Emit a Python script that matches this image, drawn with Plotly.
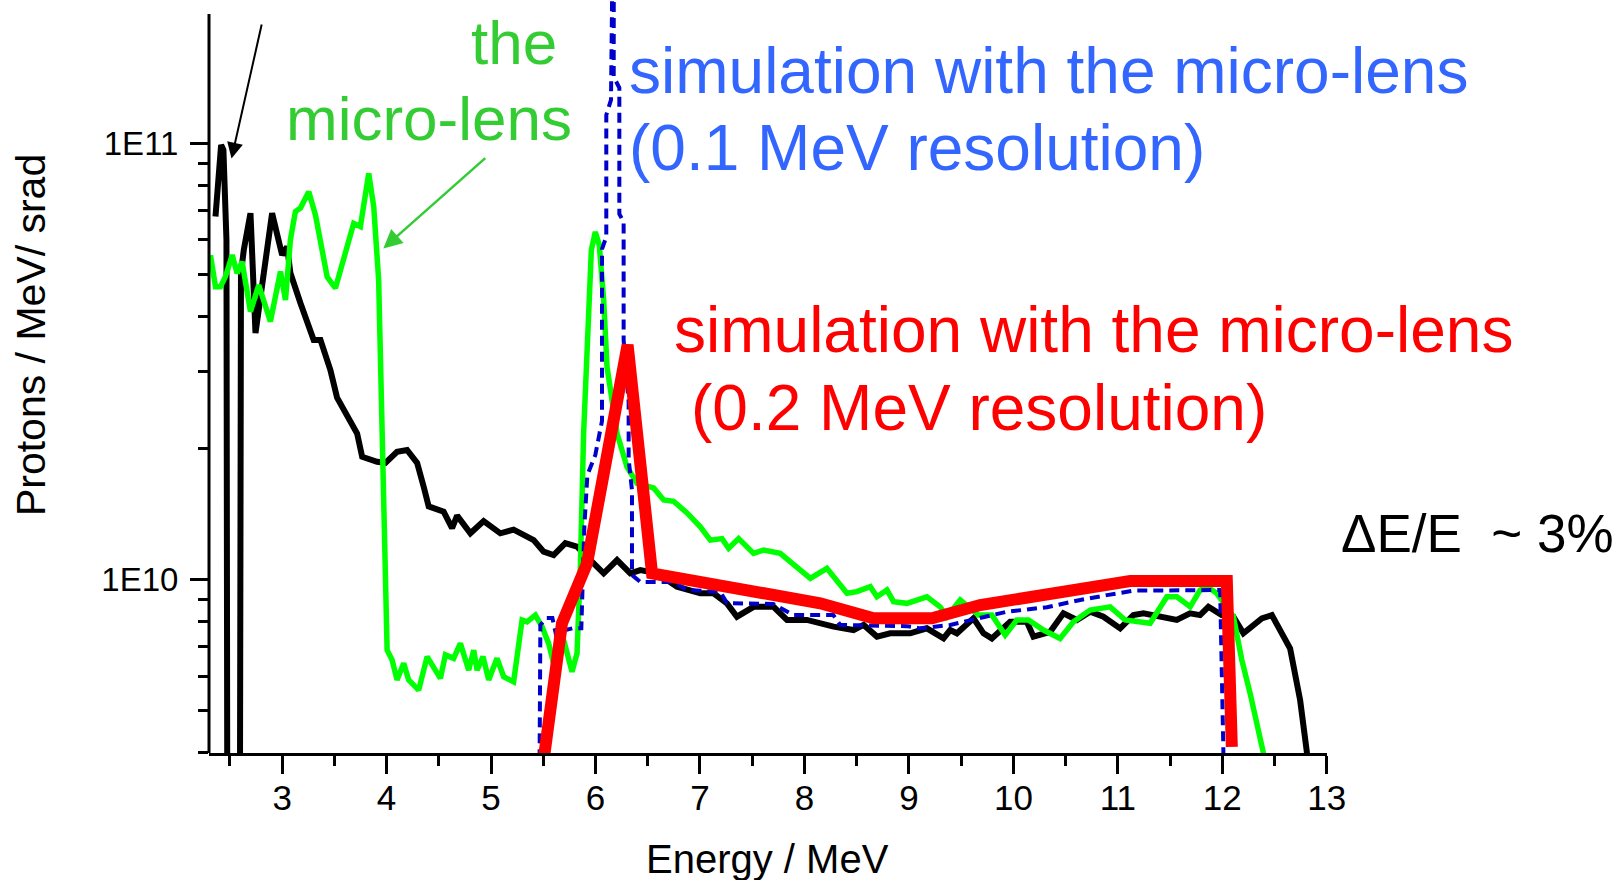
import numpy as np
import plotly.graph_objects as go

# ---------------- data (energy in MeV, spectrum in units of 1E10 protons / MeV / srad) -------------
black_E = [2.362, 2.416, 2.438, 2.467, 2.475, 2.596, 2.606, 2.633, 2.697, 2.745, 2.904, 3.000, 3.048,
           3.079, 3.175, 3.302, 3.367, 3.462, 3.526, 3.622, 3.718, 3.766, 3.909, 3.989, 4.100, 4.196,
           4.292, 4.355, 4.403, 4.546, 4.627, 4.675, 4.802, 4.929, 5.089, 5.216, 5.408, 5.503, 5.599,
           5.711, 5.823, 5.982, 6.078, 6.206, 6.333, 6.429, 6.589, 6.780, 7.003, 7.130, 7.258, 7.354,
           7.513, 7.704, 7.833, 8.024, 8.279, 8.470, 8.566, 8.694, 8.821, 9.012, 9.172, 9.331, 9.395,
           9.459, 9.618, 9.714, 9.794, 9.969, 10.129, 10.192, 10.352, 10.479, 10.608, 10.735, 10.862,
           11.022, 11.149, 11.245, 11.436, 11.564, 11.691, 11.787, 11.867, 11.995, 12.106, 12.202,
           12.378, 12.474, 12.649, 12.745, 12.809, 12.830]
black_N = [6.79, 9.91, 9.65, 6.00, 0.30, 0.30, 5.04, 5.69, 6.91, 3.67, 6.91, 5.54, 5.79,
           5.04, 4.30, 3.54, 3.54, 3.02, 2.61, 2.36, 2.16, 1.91, 1.86, 1.85, 1.96, 1.98,
           1.85, 1.63, 1.47, 1.43, 1.31, 1.40, 1.275, 1.36, 1.275, 1.30, 1.23, 1.157, 1.137,
           1.21, 1.188, 1.088, 1.032, 1.107, 1.032, 1.05, 1.032, 0.962, 0.929, 0.929, 0.881, 0.821,
           0.865, 0.865, 0.807, 0.807, 0.779, 0.765, 0.786, 0.739, 0.752, 0.752, 0.772, 0.732, 0.765,
           0.752, 0.814, 0.752, 0.732, 0.799, 0.799, 0.739, 0.758, 0.836, 0.807, 0.843, 0.821,
           0.772, 0.828, 0.836, 0.821, 0.807, 0.836, 0.828, 0.865, 0.828, 0.821, 0.752,
           0.814, 0.828, 0.694, 0.528, 0.402, 0.30]

green_E = [2.314, 2.362, 2.410, 2.457, 2.522, 2.569, 2.617, 2.697, 2.776, 2.888, 2.984, 3.032, 3.079,
           3.127, 3.175, 3.255, 3.319, 3.431, 3.510, 3.637, 3.685, 3.749, 3.829, 3.877, 3.924, 3.957,
           3.979, 4.005, 4.053, 4.100, 4.164, 4.211, 4.307, 4.388, 4.515, 4.563, 4.642, 4.706, 4.786,
           4.834, 4.866, 4.923, 4.977, 5.057, 5.121, 5.216, 5.297, 5.344, 5.424, 5.488, 5.551, 5.615,
           5.695, 5.775, 5.823, 5.855, 5.886, 5.922, 5.960, 5.998, 6.036, 6.078, 6.110, 6.206, 6.301,
           6.397, 6.556, 6.652, 6.747, 6.876, 7.003, 7.099, 7.211, 7.274, 7.370, 7.513, 7.609, 7.768,
           7.928, 8.056, 8.215, 8.407, 8.502, 8.630, 8.694, 8.790, 8.853, 8.981, 9.172, 9.299, 9.364,
           9.491, 9.666, 9.794, 9.921, 10.033, 10.144, 10.288, 10.447, 10.575, 10.735, 10.926, 11.070,
           11.309, 11.469, 11.565, 11.692, 11.787, 11.852, 11.947, 12.106, 12.187, 12.266, 12.394, 12.41]
green_N = [5.54, 4.69, 4.69, 4.94, 5.54, 5.03, 5.35, 4.11, 4.73, 3.90, 5.08, 4.37, 6.00,
           6.97, 7.10, 7.74, 6.85, 4.94, 4.65, 5.90, 6.55, 6.44, 8.53, 7.15, 4.86, 2.20,
           1.17, 0.688, 0.653, 0.588, 0.642, 0.588, 0.557, 0.665, 0.593, 0.671, 0.659, 0.713, 0.619,
           0.688, 0.619, 0.665, 0.588, 0.659, 0.598, 0.582, 0.807, 0.799, 0.828, 0.779, 0.713, 0.619,
           0.726, 0.614, 0.677, 1.069, 2.16, 3.73, 5.69, 6.26, 5.84, 4.37, 3.07, 2.16, 1.81,
           1.66, 1.62, 1.52, 1.51, 1.42, 1.32, 1.23, 1.24, 1.178, 1.24, 1.147, 1.167, 1.147,
           1.069, 1.005, 1.06, 0.929, 0.937, 0.962, 0.912, 0.945, 0.889, 0.881, 0.912, 0.865, 0.821,
           0.897, 0.828, 0.828, 0.745, 0.807, 0.807, 0.765, 0.732, 0.799, 0.85, 0.865, 0.807,
           0.793, 0.912, 0.912, 0.865, 0.945, 0.962, 0.929, 0.821, 0.653, 0.548, 0.399, 0.35]

sim01_E = [5.462, 5.472, 5.529, 5.587, 5.625, 5.711, 5.778, 5.864, 5.893, 5.922, 5.998, 6.062, 6.062,
           6.103, 6.103, 6.148, 6.165, 6.175, 6.174, 6.228, 6.228, 6.269, 6.269, 6.317, 6.317, 6.349,
           6.349, 6.429, 6.745, 6.876, 7.194, 7.258, 7.701, 7.893, 8.276, 8.343, 8.981, 9.108, 9.395,
           9.587, 9.746, 9.938, 10.321, 10.639, 10.895, 11.149, 11.979, 11.995, 12.010, 12.012]
sim01_N = [0.30, 0.786, 0.815, 0.815, 0.741, 0.765, 0.772, 0.772, 1.318, 1.735, 1.928, 2.307, 5.72,
           6.10, 11.61, 12.57, 30.0, 30.0, 14.2, 13.4, 6.88, 6.60, 3.54, 2.55, 1.887, 1.60,
           1.023, 0.986, 0.986, 0.945, 0.936, 0.882, 0.878, 0.828, 0.828, 0.786, 0.781, 0.772, 0.786,
           0.807, 0.821, 0.843, 0.863, 0.897, 0.92, 0.942, 0.945, 0.677, 0.406, 0.30]

sim02_E = [5.503, 5.679, 5.919, 6.307, 6.541, 7.194, 8.151, 8.661, 9.220, 9.682, 10.831, 11.118,
           12.043, 12.091]
sim02_N = [0.385, 0.793, 1.088, 3.45, 1.032, 0.962, 0.881, 0.814, 0.814, 0.873, 0.954, 0.991,
           0.991, 0.413]

x_tick_vals = list(range(3, 14))
x_tick_text = [str(v) for v in x_tick_vals]
x_minor_vals = [v + 0.5 for v in range(2, 13)]
y_tick_vals = [1e10, 1e11]
y_tick_text = ["1E10", "1E11"]
y_minor_vals = [m * 1e9 for m in range(4, 10)] + [m * 1e10 for m in range(2, 10)]

UNIT = 1e10

# ---------------- layout geometry (pixels of the 1614 x 880 page) ----------------
W, H = 1614, 880
L, R, T, B = 209.0, 1326.7, 0.0, 752.7
AX_TOP = 14.0


def px(xp):
    return (xp - L) / (R - L)


def py(yp):
    return (B - yp) / (B - T)


FONT = "Liberation Sans, Arial, Helvetica, sans-serif"
GREEN_TXT = "#33cc33"
BLUE_TXT = "#3366ff"
RED = "#ff0000"

fig = go.Figure()
fig.add_trace(go.Scatter(x=black_E, y=np.array(black_N) * UNIT, mode="lines",
                         line=dict(color="black", width=6), name="without lens"))
fig.add_trace(go.Scatter(x=green_E, y=np.array(green_N) * UNIT, mode="lines",
                         line=dict(color="#00ff00", width=5.5), name="with the micro-lens"))
fig.add_trace(go.Scatter(x=sim01_E, y=np.array(sim01_N) * UNIT, mode="lines",
                         line=dict(color="#0000cc", width=4, dash="10px,6px"),
                         name="simulation 0.1 MeV"))
fig.add_trace(go.Scatter(x=sim02_E, y=np.array(sim02_N) * UNIT, mode="lines",
                         line=dict(color=RED, width=12), name="simulation 0.2 MeV"))

annotations = []


def text(t, xp, yp, size, color, xanchor="center", angle=0):
    annotations.append(dict(text=t, x=px(xp), y=py(yp), xref="paper", yref="paper",
                            xanchor=xanchor, yanchor="middle", showarrow=False,
                            textangle=angle, font=dict(family=FONT, size=size, color=color)))


text("the", 514, 42, 62, GREEN_TXT)
text("micro-lens", 429, 118.5, 62, GREEN_TXT)
text("simulation with the micro-lens", 626.5, 71, 64, BLUE_TXT, "left")
text("(0.1 MeV resolution)", 626.5, 148, 64, BLUE_TXT, "left")
text("simulation with the micro-lens", 672, 329.5, 64, RED, "left")
text("(0.2 MeV resolution)", 689, 408, 64, RED, "left")
text("\u0394E/E \u00a0~ 3%", 1339, 533.5, 53, "black", "left")
text("Energy / MeV", 767, 859, 40, "black")
text("Protons / MeV/ srad", 30.5, 334.5, 41, "black", angle=-90)

# arrows
annotations.append(dict(text="", x=px(231.5), y=py(158.5), xref="paper", yref="paper",
                        ax=262 - 231.5, ay=23 - 158.5, showarrow=True, arrowhead=2,
                        arrowsize=1.6, arrowwidth=2, arrowcolor="black", standoff=0))
annotations.append(dict(text="", x=px(383.3), y=py(248.3), xref="paper", yref="paper",
                        ax=486.7 - 383.3, ay=156.7 - 248.3, showarrow=True, arrowhead=2,
                        arrowsize=1.5, arrowwidth=2.5, arrowcolor=GREEN_TXT, standoff=0))

fig.update_layout(
    width=W, height=H,
    margin=dict(l=L, r=W - R, t=T, b=H - B, pad=0, autoexpand=False),
    paper_bgcolor="white", plot_bgcolor="white",
    showlegend=False,
    font=dict(family=FONT, color="black"),
    annotations=annotations,
    shapes=[dict(type="line", xref="paper", yref="paper", x0=0, x1=0, y0=0, y1=py(AX_TOP),
                 line=dict(color="black", width=3))],
)
fig.update_xaxes(
    range=[2.3, 13.002], showgrid=False, zeroline=False,
    showline=True, linecolor="black", linewidth=3,
    tickmode="array", tickvals=x_tick_vals, ticktext=x_tick_text,
    ticks="outside", ticklen=18, tickwidth=3, tickcolor="black",
    ticklabelstandoff=-6,
    tickfont=dict(family=FONT, size=35, color="black"),
    minor=dict(tickmode="array", tickvals=x_minor_vals, ticks="outside", ticklen=10,
               tickwidth=3, tickcolor="black", showgrid=False),
)
fig.update_yaxes(
    type="log", range=[9.6018, 11.3284], showgrid=False, zeroline=False,
    showline=False,
    tickmode="array", tickvals=y_tick_vals, ticktext=y_tick_text,
    ticks="outside", ticklen=18, tickwidth=3, tickcolor="black",
    ticklabelstandoff=5,
    tickfont=dict(family=FONT, size=33, color="black"),
    minor=dict(tickmode="array", tickvals=y_minor_vals, ticks="outside", ticklen=10,
               tickwidth=3, tickcolor="black", showgrid=False),
)

fig.write_html("out.html")
